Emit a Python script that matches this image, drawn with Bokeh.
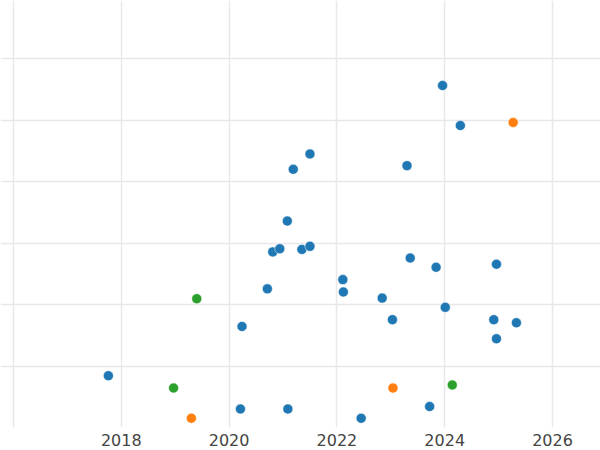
from bokeh.plotting import figure
from bokeh.models import Range1d, FixedTicker
from bokeh.embed import file_html
from bokeh.resources import INLINE

# Blue series
blue_x = [2023.96, 2024.29, 2021.50, 2021.19, 2023.30, 2021.08, 2020.81, 2020.94,
          2021.35, 2021.50, 2023.36, 2023.84, 2024.96, 2022.11, 2022.12, 2020.71,
          2022.84, 2024.01, 2023.03, 2024.91, 2025.33, 2024.96, 2020.24, 2017.76,
          2020.21, 2021.09, 2022.45, 2023.72]
blue_y = [5.56, 4.91, 4.45, 4.20, 4.26, 3.36, 2.86, 2.91,
          2.90, 2.95, 2.76, 2.61, 2.66, 2.41, 2.21, 2.26,
          2.11, 1.96, 1.76, 1.76, 1.71, 1.45, 1.65, 0.85,
          0.31, 0.31, 0.16, 0.35]

# Orange series
orange_x = [2025.27, 2023.04, 2019.30]
orange_y = [4.96, 0.65, 0.16]

# Green series
green_x = [2019.40, 2018.97, 2024.14]
green_y = [2.10, 0.65, 0.70]

x_ticks = [2018, 2020, 2022, 2024, 2026]
x_grid = [2016, 2018, 2020, 2022, 2024, 2026]
y_grid = [1, 2, 3, 4, 5, 6]

p = figure(frame_width=600, frame_height=427, output_backend="svg", toolbar_location=None,
           x_range=Range1d(2015.759, 2026.89), y_range=Range1d(0.01, 6.94),
           y_axis_location=None, min_border_left=0, min_border_right=0,
           min_border_top=0, min_border_bottom=0)
p.outline_line_color = None
p.background_fill_color = "white"
p.border_fill_color = "white"

p.xaxis.ticker = FixedTicker(ticks=x_ticks)
p.xaxis.axis_line_color = None
p.xaxis.major_tick_line_color = None
p.xaxis.minor_tick_line_color = None
p.xaxis.major_label_text_font = "DejaVu Sans"
p.xaxis.major_label_text_font_size = "16px"
p.xaxis.major_label_text_color = "#444444"
p.xaxis.major_label_standoff = 0

p.xgrid.ticker = FixedTicker(ticks=x_grid)
p.ygrid.ticker = FixedTicker(ticks=y_grid)
for g in (p.xgrid, p.ygrid):
    g.grid_line_color = "#e8e8e8"
    g.grid_line_width = 1.5

p.scatter(blue_x, blue_y, size=10, color="#1f77b4", line_color="white", line_width=0.5)
p.scatter(orange_x, orange_y, size=10, color="#ff7f0e", line_color="white", line_width=0.5)
p.scatter(green_x, green_y, size=10, color="#2ca02c", line_color="white", line_width=0.5)

open("out.html", "w").write(file_html(p, INLINE))
